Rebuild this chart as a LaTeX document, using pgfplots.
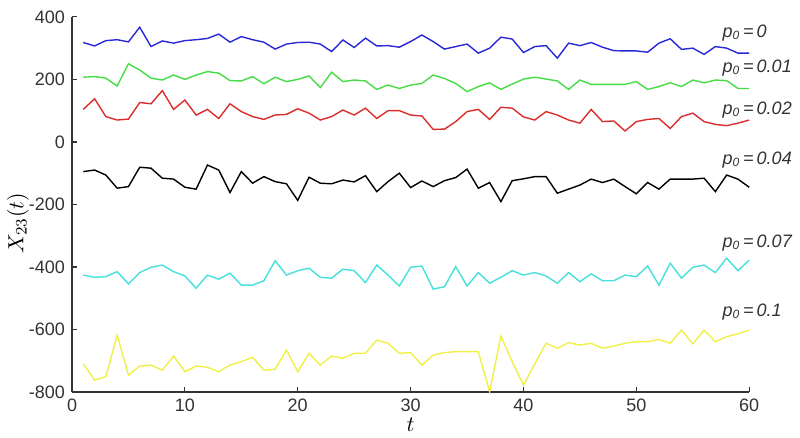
\documentclass[border=0pt]{standalone}
\usepackage{fontspec}
\setmainfont{Liberation Sans}
\usepackage{pgfplots}
\pgfplotsset{compat=1.18}
\usepackage{pgfplotstable}

% series, t = 1..60
\pgfplotstableread{
t  a    b    c    d     e     f
1  318  207  104  -95   -426  -710
2  307  209  138  -90   -433  -762
3  324  204  81   -106  -431  -751
4  327  179  70   -148  -415  -618
5  320  250  73   -143  -454  -746
6  367  230  126  -81   -418  -717
7  305  204  122  -84   -401  -714
8  323  198  164  -116  -394  -730
9  316  214  104  -119  -415  -685
10 324  200  134  -145  -429  -735
11 327  214  86   -151  -468  -717
12 331  225  104  -74   -426  -721
13 345  220  75   -90   -439  -735
14 319  196  122  -162  -420  -714
15 337  195  97   -95   -458  -703
16 327  209  81   -132  -458  -689
17 319  186  72   -111  -444  -730
18 297  207  86   -127  -380  -727
19 313  193  88   -134  -426  -666
20 318  200  106  -187  -412  -735
21 319  211  92   -113  -404  -676
22 313  174  70   -132  -433  -714
23 289  223  81   -134  -436  -685
24 326  193  102  -122  -407  -692
25 302  198  86   -128  -412  -676
26 332  195  108  -108  -450  -676
27 307  168  75   -159  -394  -634
28 308  182  100  -127  -426  -644
29 303  171  100  -100  -461  -676
30 321  182  86   -146  -401  -674
31 342  187  83   -125  -397  -714
32 321  214  40   -143  -471  -682
33 297  203  41   -124  -463  -674
34 305  187  65   -114  -399  -671
35 313  161  97   -87   -461  -671
36 284  177  104  -148  -418  -671
37 300  189  72   -130  -452  -799
38 335  168  111  -191  -433  -621
39 329  185  108  -124  -412  -703
40 286  201  80   -118  -426  -778
41 305  207  70   -111  -418  -710
42 308  201  97   -111  -429  -644
43 268  195  86   -164  -452  -660
44 316  168  70   -151  -418  -642
45 308  198  60   -138  -447  -650
46 318  184  104  -119  -422  -644
47 303  184  65   -130  -444  -660
48 292  184  67   -119  -444  -653
49 291  184  35   -143  -426  -644
50 291  193  65   -166  -431  -639
51 287  168  72   -130  -397  -639
52 316  177  75   -151  -458  -632
53 330  189  43   -119  -388  -644
54 296  177  81   -119  -436  -602
55 300  198  92   -119  -401  -646
56 280  189  65   -116  -394  -602
57 305  198  56   -159  -418  -639
58 300  196  52   -106  -372  -623
59 284  171  60   -119  -412  -614
60 284  171  70   -145  -378  -602
}\datatable

\definecolor{cblue}{RGB}{40,40,215}
\definecolor{cgreen}{RGB}{70,220,70}
\definecolor{cred}{RGB}{220,45,45}
\definecolor{ccyan}{RGB}{70,225,220}
\definecolor{cyell}{RGB}{240,240,70}
\definecolor{ctext}{RGB}{50,50,50}

\begin{document}
\begin{tikzpicture}
\begin{axis}[
    scale only axis,
    width=338.5pt, height=187.5pt,
    xmin=0, xmax=60, ymin=-800, ymax=400,
    axis x line*=bottom, axis y line*=left,
    axis line style={-, black!80, line width=0.6pt},
    tick align=inside, major tick length=2.5pt,
    tick style={black!80, line width=0.6pt},
    xtick={0,10,...,60}, ytick={-800,-600,...,400},
    /pgf/number format/assume math mode=true,
    ticklabel style={font=\fontsize{9}{10}\selectfont, text=ctext},
    xlabel={$t$}, ylabel={$X_{23}(t)$},
    label style={font=\fontsize{11}{12}\selectfont},
    xlabel style={at={(axis description cs:0.5,-0.088)}, anchor=center},
    ylabel style={at={(axis description cs:-0.08,0.45)}, anchor=center, rotate=0},
    clip=false,
    every axis plot/.append style={line width=0.7pt},
]
\addplot[cblue]  table[x=t, y=a] {\datatable};
\addplot[cgreen] table[x=t, y=b] {\datatable};
\addplot[cred]   table[x=t, y=c] {\datatable};
\addplot[black]  table[x=t, y=d] {\datatable};
\addplot[ccyan]  table[x=t, y=e] {\datatable};
\addplot[cyell]  table[x=t, y=f] {\datatable};

\begin{scope}[every node/.style={anchor=west, inner sep=0pt, text=ctext, font=\fontsize{9}{10}\selectfont\itshape}]
\node at (axis cs:57.6,349)  {p\textsubscript{0}\,=\,0};
\node at (axis cs:57.6,237)  {p\textsubscript{0}\,=\,0.01};
\node at (axis cs:57.6,102)  {p\textsubscript{0}\,=\,0.02};
\node at (axis cs:57.6,-58)  {p\textsubscript{0}\,=\,0.04};
\node at (axis cs:57.6,-323) {p\textsubscript{0}\,=\,0.07};
\node at (axis cs:57.6,-544) {p\textsubscript{0}\,=\,0.1};
\end{scope}

\coordinate (bl) at (axis cs:-6.38,-944);
\coordinate (tr) at (axis cs:64.5,454);
\end{axis}
\pgfresetboundingbox
\path[use as bounding box] (bl) rectangle (tr);
\end{tikzpicture}
\end{document}
